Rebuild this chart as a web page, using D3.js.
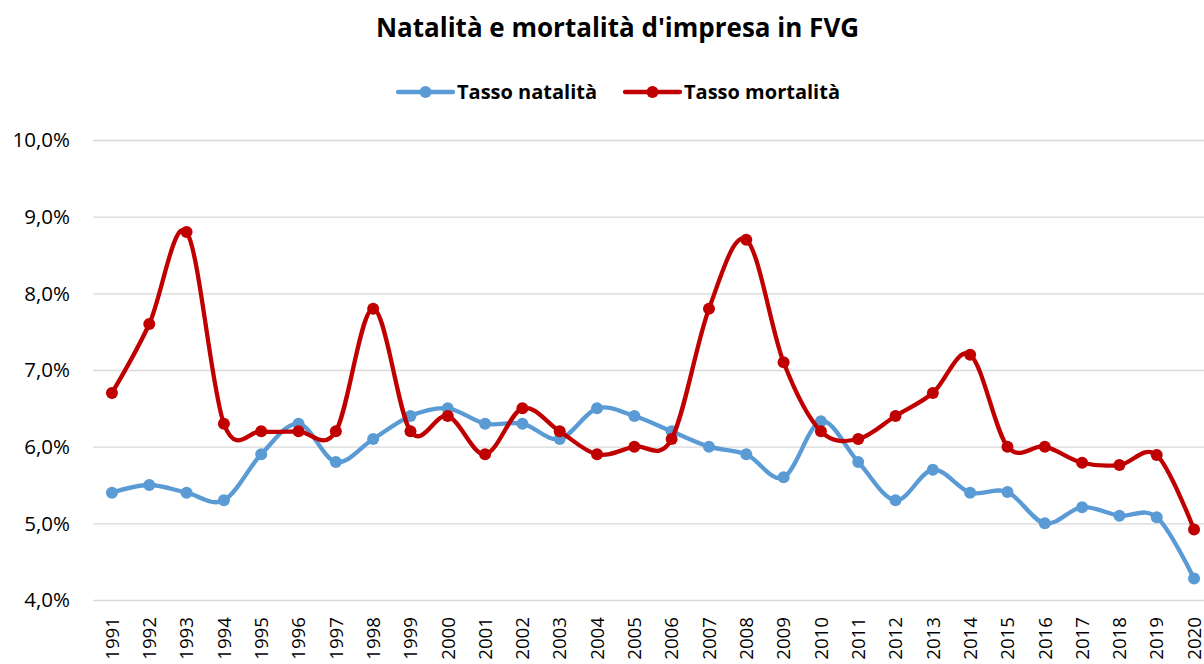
<!DOCTYPE html>
<html>
<head>
<meta charset="utf-8">
<script src="https://cdn.jsdelivr.net/npm/d3@7"></script>
<style>
  body { margin: 0; background: #fff; }
  svg { display: block; font-family: "Open Sans", Lato, sans-serif; }
  .grid line { stroke: #d9d9d9; stroke-width: 1.3; }
  .grid .domain { display: none; }
</style>
</head>
<body>
<svg id="chart" width="1204" height="664"></svg>
<script>
// anni e tassi (%)
const years = d3.range(1991, 2021).map(String)
const natalita = [5.4, 5.5, 5.4, 5.3, 5.9, 6.3, 5.8, 6.1, 6.4, 6.5, 6.3, 6.3, 6.1, 6.5, 6.4, 6.2, 6.0, 5.9, 5.6, 6.33, 5.8, 5.3, 5.7, 5.4, 5.41, 5.0, 5.21, 5.1, 5.08, 4.28]
const mortalita = [6.7, 7.6, 8.8, 6.3, 6.2, 6.2, 6.2, 7.8, 6.2, 6.4, 5.9, 6.5, 6.2, 5.9, 6.0, 6.1, 7.8, 8.7, 7.1, 6.2, 6.1, 6.4, 6.7, 7.2, 6.0, 6.0, 5.79, 5.76, 5.89, 4.92]
const yTicks = [4, 5, 6, 7, 8, 9, 10]

const series = [
  { name: "Tasso natalità", values: natalita, color: "#5b9bd5" },
  { name: "Tasso mortalità", values: mortalita, color: "#c00000" }
]

const it = d3.formatLocale({ decimal: ",", thousands: ".", grouping: [3], currency: ["€", ""] })
const pct = v => it.format(".1%")(v / 100)

const svg = d3.select("#chart")

const x = d3.scalePoint()
  .domain(years)
  .range([93.3, 1212.7])
  .padding(0.5)

const y = d3.scaleLinear()
  .domain([4, 10])
  .range([600, 140])

// griglia
svg.append("g")
  .attr("class", "grid")
  .attr("transform", "translate(93,0)")
  .call(d3.axisLeft(y).tickValues(yTicks).tickSize(-1111).tickFormat(""))

// etichette asse y
svg.append("g")
  .selectAll("text")
  .data(yTicks)
  .join("text")
  .attr("x", 70)
  .attr("y", d => y(d))
  .attr("dy", "0.36em")
  .attr("text-anchor", "end")
  .style("font-size", "20.5px")
  .text(d => pct(d))

// etichette asse x (ruotate)
svg.append("g")
  .selectAll("text")
  .data(years)
  .join("text")
  .attr("transform", d => `translate(${x(d)},617) rotate(-90)`)
  .attr("dy", "0.36em")
  .attr("text-anchor", "end")
  .style("font-size", "18.7px")
  .text(d => d)

const line = d3.line()
  .x((d, i) => x(years[i]))
  .y(d => y(d))
  .curve(d3.curveCatmullRom.alpha(0))

series.forEach(s => {
  const g = svg.append("g")
  g.append("path")
    .attr("d", line(s.values))
    .attr("fill", "none")
    .attr("stroke", s.color)
    .attr("stroke-width", 4.3)
    .attr("stroke-linecap", "round")
  g.selectAll("circle")
    .data(s.values)
    .join("circle")
    .attr("cx", (d, i) => x(years[i]))
    .attr("cy", d => y(d))
    .attr("r", 6)
    .attr("fill", s.color)
})

// titolo
svg.append("text")
  .attr("x", 617.5)
  .attr("y", 37)
  .attr("text-anchor", "middle")
  .style("font-size", "26px")
  .style("font-weight", "bold")
  .text("Natalità e mortalità d'impresa in FVG")

// legenda
const legendX = [398, 625]
series.forEach((s, i) => {
  const g = svg.append("g").attr("transform", `translate(${legendX[i]},92)`)
  g.append("line")
    .attr("x1", 0).attr("x2", 55)
    .attr("stroke", s.color)
    .attr("stroke-width", 4.3)
    .attr("stroke-linecap", "round")
  g.append("circle")
    .attr("cx", 27.5)
    .attr("r", 6)
    .attr("fill", s.color)
  g.append("text")
    .attr("x", 59)
    .attr("dy", "0.36em")
    .style("font-size", "20px")
    .style("font-weight", "bold")
    .text(s.name)
})
</script>
</body>
</html>
